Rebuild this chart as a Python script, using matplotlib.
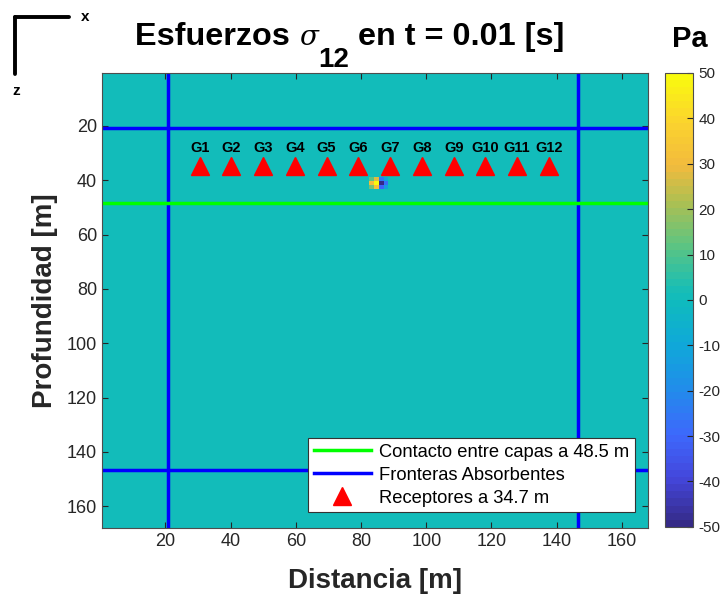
import numpy as np
import matplotlib
matplotlib.use('Agg')
import matplotlib.pyplot as plt
from matplotlib.colors import LinearSegmentedColormap
from matplotlib.lines import Line2D

plt.rcParams['font.family'] = ['Liberation Sans', 'DejaVu Sans']
plt.rcParams['axes.unicode_minus'] = False

# domain and grid
domain = 168.0
nx = 116
dx = domain / nx

# lines (m)
absorb_lines = [20.7, 146.7]
contact_depth = 48.5
receptor_depth = 34.7
receptor_x = [30.5, 40.2, 50.0, 59.7, 69.4, 79.2, 88.9, 98.6, 108.4, 118.1, 127.8, 137.6]
receptor_names = ['G%d' % (i + 1) for i in range(len(receptor_x))]

# source blob (Pa), rows top->bottom, cols left->right
blob_values = np.array([
    [12, 28, -25, -10],
    [30, 50, -50, -28],
    [15, 32, -30, -14],
])
blob_x = 82.4   # left edge of blob (m)
blob_y = 39.5   # top edge of blob (m)

field = np.zeros((nx, nx))
i0 = int(round(blob_y / dx))
j0 = int(round(blob_x / dx))
field[i0:i0 + blob_values.shape[0], j0:j0 + blob_values.shape[1]] = blob_values

parula = LinearSegmentedColormap.from_list('parula', [
    (0.00, (0.208, 0.166, 0.529)),
    (0.10, (0.265, 0.275, 0.860)),
    (0.20, (0.240, 0.410, 0.990)),
    (0.30, (0.130, 0.550, 0.920)),
    (0.40, (0.060, 0.660, 0.850)),
    (0.50, (0.060, 0.735, 0.740)),
    (0.53, (0.110, 0.745, 0.700)),
    (0.62, (0.360, 0.770, 0.510)),
    (0.72, (0.680, 0.750, 0.320)),
    (0.80, (0.950, 0.730, 0.240)),
    (0.90, (0.985, 0.830, 0.180)),
    (1.00, (0.976, 0.983, 0.054)),
], N=64)

fig = plt.figure(figsize=(7.28, 5.98), dpi=100)
ax = fig.add_axes([0.140, 0.117, 0.750, 0.761])

im = ax.imshow(field, cmap=parula, vmin=-50, vmax=50, extent=[0, domain, domain, 0],
               aspect='auto', interpolation='nearest')

for a in absorb_lines:
    ax.axvline(a, color=(0, 0, 1), lw=2.5)
ax.axhline(absorb_lines[0], color=(0, 0, 1), lw=2.5, label='Fronteras Absorbentes')
ax.axhline(absorb_lines[1], color=(0, 0, 1), lw=2.5)
ax.axhline(contact_depth, color=(0, 1, 0), lw=2.5, label='Contacto entre capas a 48.5 m')

ax.plot(receptor_x, [receptor_depth] * len(receptor_x), '^', color='red', ms=13,
        mec='red', ls='none', label='Receptores a 34.7 m')
for xr, name in zip(receptor_x, receptor_names):
    ax.annotate(name, (xr, receptor_depth), xytext=(0, 8), textcoords='offset points',
                ha='center', va='bottom', fontsize=10.5, fontweight='bold')

ax.set_xlim(0.5, 168)
ax.set_ylim(168, 0.5)
ax.set_xticks(np.arange(20, 161, 20))
ax.set_yticks(np.arange(20, 161, 20))
ax.tick_params(direction='in', top=True, right=True, labelsize=13, colors='0.15',
               length=4)
for s in ax.spines.values():
    s.set_color('0.3')

ax.set_xlabel('Distancia [m]', fontsize=20, fontweight='bold', color='0.15', labelpad=13)
ax.set_ylabel('Profundidad [m]', fontsize=20, fontweight='bold', color='0.15', labelpad=6)

h, l = ax.get_legend_handles_labels()
order = [1, 0, 2]
leg = ax.legend([h[i] for i in order], [l[i] for i in order], loc='lower right',
                bbox_to_anchor=(0.976, 0.035), fontsize=13.2, fancybox=False,
                edgecolor='0.2', framealpha=1, handlelength=3.1, borderpad=0.3,
                labelspacing=0.32, handletextpad=0.45, borderaxespad=0.0)
leg.get_frame().set_linewidth(0.8)

cax = fig.add_axes([0.9135, 0.119, 0.0385, 0.759])
cb = fig.colorbar(im, cax=cax, ticks=np.arange(-50, 51, 10))
cb.ax.tick_params(direction='in', labelsize=11, colors='0.15', length=4, pad=4)
cb.outline.set_edgecolor('0.3')
fig.text(0.948, 0.912, 'Pa', fontsize=21, fontweight='bold', ha='center', va='bottom')

# title built from pieces so the subscript can be big and bold like the original
renderer = fig.canvas.get_renderer()
base_y = 1 - 45 / 598
sub_y = 1 - 67 / 598
pieces = [
    ('Esfuerzos ', dict(fontsize=23.3, fontweight='bold'), base_y),
    ('σ', dict(fontsize=20, family='DejaVu Serif', style='italic'), base_y),
    ('12', dict(fontsize=20, fontweight='bold'), sub_y),
    (' en t = 0.01 [s]', dict(fontsize=23.3, fontweight='bold'), base_y),
]
x = 135 / 728
for txt, kw, yb in pieces:
    t = fig.text(x, yb, txt, ha='left', va='baseline', **kw)
    bb = t.get_window_extent(renderer)
    x += bb.width / fig.bbox.width

# x / z orientation marker
fig.add_artist(Line2D([0.020, 0.095], [0.972, 0.972], color='black', lw=2.8,
                      solid_capstyle='round', transform=fig.transFigure))
fig.add_artist(Line2D([0.020, 0.020], [0.972, 0.877], color='black', lw=2.8,
                      solid_capstyle='round', transform=fig.transFigure))
fig.text(0.117, 0.972, 'x', fontsize=11, fontweight='bold', ha='center', va='center')
fig.text(0.022, 0.848, 'z', fontsize=11, fontweight='bold', ha='center', va='center')

fig.savefig('out.png', dpi=100)
